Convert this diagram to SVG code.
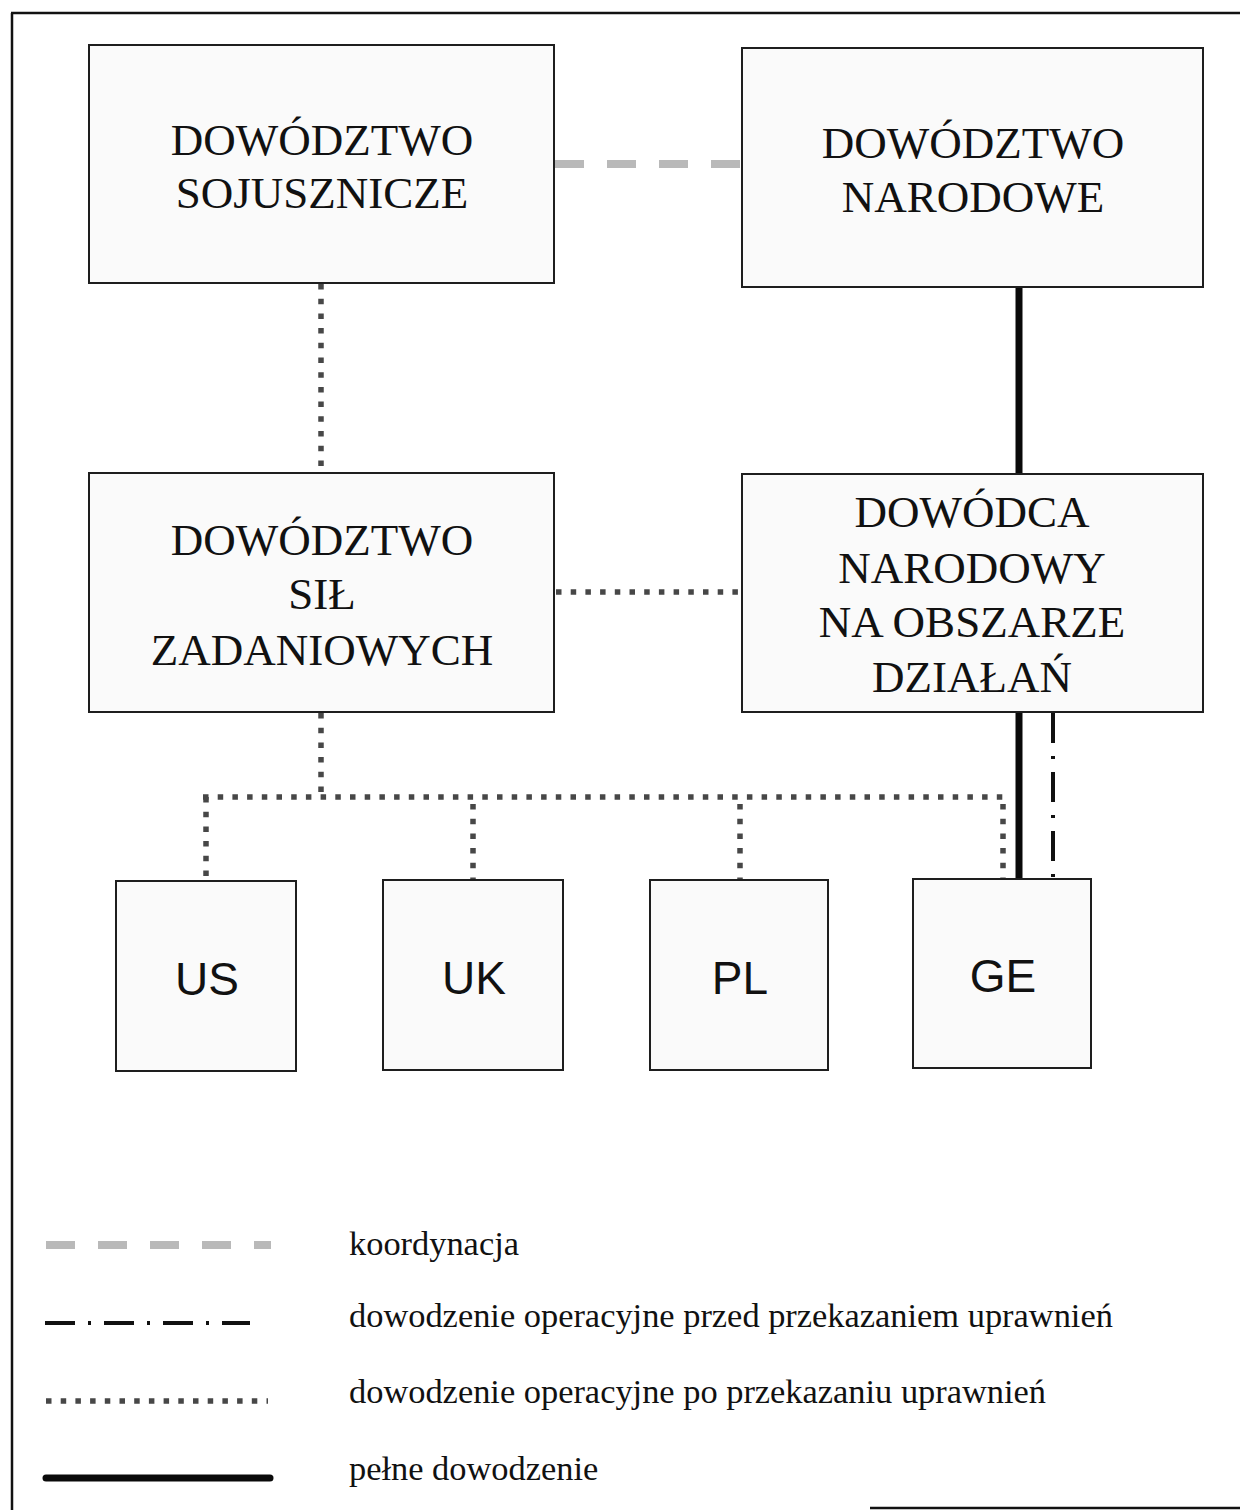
<svg xmlns="http://www.w3.org/2000/svg" width="1240" height="1510" viewBox="0 0 1240 1510">
  <style>
    .box { fill: #fafafa; stroke: #1e1e1e; stroke-width: 2; }
    .title { font-family: "Liberation Serif", "Times New Roman", serif; font-size: 45px; fill: #111; text-anchor: middle; }
    .code { font-family: "Liberation Sans", Arial, sans-serif; font-size: 46px; fill: #111; text-anchor: middle; }
    .legend { font-family: "Liberation Serif", "Times New Roman", serif; font-size: 34.4px; fill: #111; }
    .coord { stroke: #b9b9b9; stroke-width: 8; stroke-dasharray: 29 23; fill: none; }
    .opafter { stroke: #474747; stroke-width: 5.5; stroke-dasharray: 5.5 9.2; fill: none; }
    .opbefore { stroke: #111; stroke-width: 4; stroke-dasharray: 30 13 3 13; fill: none; }
    .full { stroke: #0a0a0a; stroke-width: 7; fill: none; }
    .frame { stroke: #111; stroke-width: 2.5; fill: none; }
  </style>

  <rect width="1240" height="1510" fill="#ffffff"/>

  <!-- page frame -->
  <g id="frame">
    <line class="frame" x1="11" y1="13" x2="1240" y2="13"/>
    <line class="frame" x1="12" y1="13" x2="12" y2="1510"/>
    <line class="frame" x1="870" y1="1508" x2="1240" y2="1508"/>
  </g>

  <!-- connectors -->
  <g id="connectors">
    <line class="coord" x1="555" y1="164" x2="742" y2="164"/>
    <line class="opafter" x1="321" y1="284" x2="321" y2="473"/>
    <line class="opafter" x1="556" y1="592" x2="742" y2="592"/>
    <line class="opafter" x1="321" y1="713" x2="321" y2="797"/>
    <line class="opafter" x1="203" y1="797" x2="1008" y2="797"/>
    <line class="opafter" x1="206" y1="797" x2="206" y2="881"/>
    <line class="opafter" x1="473" y1="804" x2="473" y2="880"/>
    <line class="opafter" x1="740" y1="804" x2="740" y2="880"/>
    <line class="opafter" x1="1003" y1="804" x2="1003" y2="879"/>
    <line class="full" x1="1019" y1="287" x2="1019" y2="474"/>
    <line class="full" x1="1019" y1="712" x2="1019" y2="879"/>
    <line class="opbefore" x1="1053" y1="713" x2="1053" y2="879"/>
  </g>

  <g id="allied-command">
    <rect class="box" x="89" y="45" width="465" height="238"/>
    <text class="title" x="322" y="155">DOWÓDZTWO</text>
    <text class="title" x="322" y="208">SOJUSZNICZE</text>
  </g>

  <g id="national-command">
    <rect class="box" x="742" y="48" width="461" height="239"/>
    <text class="title" x="973" y="158">DOWÓDZTWO</text>
    <text class="title" x="973" y="212">NARODOWE</text>
  </g>

  <g id="task-force-command">
    <rect class="box" x="89" y="473" width="465" height="239"/>
    <text class="title" x="322" y="555">DOWÓDZTWO</text>
    <text class="title" x="322" y="609">SIŁ</text>
    <text class="title" x="322" y="665">ZADANIOWYCH</text>
  </g>

  <g id="national-theatre-commander">
    <rect class="box" x="742" y="474" width="461" height="238"/>
    <text class="title" x="972" y="527">DOWÓDCA</text>
    <text class="title" x="972" y="583">NARODOWY</text>
    <text class="title" x="972" y="637">NA OBSZARZE</text>
    <text class="title" x="972" y="692">DZIAŁAŃ</text>
  </g>

  <g id="us">
    <rect class="box" x="116" y="881" width="180" height="190"/>
    <text class="code" x="207" y="995">US</text>
  </g>
  <g id="uk">
    <rect class="box" x="383" y="880" width="180" height="190"/>
    <text class="code" x="474" y="994">UK</text>
  </g>
  <g id="pl">
    <rect class="box" x="650" y="880" width="178" height="190"/>
    <text class="code" x="740" y="994">PL</text>
  </g>
  <g id="ge">
    <rect class="box" x="913" y="879" width="178" height="189"/>
    <text class="code" x="1003" y="992">GE</text>
  </g>

  <!-- legend -->
  <g id="legend">
    <line class="coord" x1="46" y1="1245" x2="271" y2="1245" stroke-dasharray="25 19"/>
    <line class="opbefore" x1="45" y1="1323" x2="250" y2="1323" stroke-dasharray="28 11 4 11"/>
    <line class="opafter" x1="46" y1="1401" x2="268" y2="1401" stroke-dasharray="6 10.2"/>
    <line class="full" x1="46" y1="1478" x2="270" y2="1478" stroke-linecap="round"/>
    <text class="legend" x="349" y="1255">koordynacja</text>
    <text class="legend" x="349" y="1327">dowodzenie operacyjne przed przekazaniem uprawnień</text>
    <text class="legend" x="349" y="1403">dowodzenie operacyjne po przekazaniu uprawnień</text>
    <text class="legend" x="349" y="1480">pełne dowodzenie</text>
  </g>
</svg>
